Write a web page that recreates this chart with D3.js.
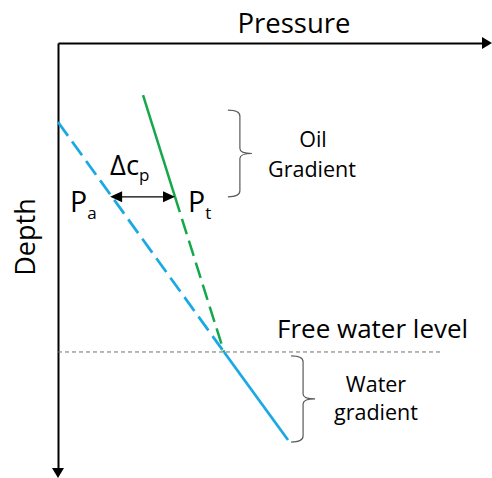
<!DOCTYPE html>
<html>
<head>
<meta charset="utf-8">
<script src="https://cdn.jsdelivr.net/npm/d3@7"></script>
<style>
  body { margin: 0; background: #fff; }
  svg { display: block; font-family: "Open Sans", sans-serif; }
</style>
</head>
<body>
<svg id="chart" width="492" height="478"></svg>
<script>
// pressure / depth in arbitrary units (0..100 on both axes)
const waterDashed = [{p: 0, d: 18.6}, {p: 39.15, d: 72.7}];
const waterSolid = [{p: 39.15, d: 72.7}, {p: 54.25, d: 93.4}];
const oilSolid = [{p: 20.05, d: 12.24}, {p: 27.6, d: 36.2}];
const oilDashed = [{p: 27.6, d: 36.2}, {p: 39.15, d: 72.7}];
const deltaCp = [{p: 12.3, d: 36.2}, {p: 27.6, d: 36.2}];
const freeWater = [{p: 0, d: 72.7}, {p: 90.6, d: 72.7}];
const oilBracket = {p: 42.9, d: [15.8, 36.2]};
const waterBracket = {p: 57.8, d: [73.6, 93.9]};

let svg = d3.select("#chart");

let x = d3.scaleLinear().domain([0, 100]).range([58, 482]);
let y = d3.scaleLinear().domain([0, 100]).range([43, 468]);

let line = d3.line()
    .x(function (d) { return x(d.p); })
    .y(function (d) { return y(d.d); });

// axes: no ticks, just the domain lines with arrow heads
svg.append("g")
    .attr("transform", "translate(0," + y(0) + ")")
    .call(d3.axisTop(x).ticks(0).tickSizeOuter(0))
    .select(".domain")
    .attr("stroke", "#000")
    .attr("stroke-width", 2);

svg.append("g")
    .attr("transform", "translate(" + x(0) + ",0)")
    .call(d3.axisLeft(y).ticks(0).tickSizeOuter(0))
    .select(".domain")
    .attr("stroke", "#000")
    .attr("stroke-width", 2);

let xEnd = x.range()[1], yEnd = y.range()[1];
svg.append("path")
    .attr("d", "M" + xEnd + "," + (y(0) - 6) + " L" + (xEnd + 10) + "," + y(0) + " L" + xEnd + "," + (y(0) + 6) + "Z")
    .attr("fill", "#000");
svg.append("path")
    .attr("d", "M" + (x(0) - 6) + "," + yEnd + " L" + x(0) + "," + (yEnd + 10) + " L" + (x(0) + 6) + "," + yEnd + "Z")
    .attr("fill", "#000");

// free water level
svg.append("path")
    .attr("d", line(freeWater))
    .attr("fill", "none")
    .attr("stroke", "#707070")
    .attr("stroke-width", 1)
    .attr("stroke-dasharray", "4,3");

// gradients
const blue = "#1aa9e2", green = "#14a84a";
svg.append("path").attr("d", line(waterDashed))
    .attr("fill", "none").attr("stroke", blue).attr("stroke-width", 2.75)
    .attr("stroke-dasharray", "17,7");
svg.append("path").attr("d", line(waterSolid))
    .attr("fill", "none").attr("stroke", blue).attr("stroke-width", 2.75);
svg.append("path").attr("d", line(oilSolid))
    .attr("fill", "none").attr("stroke", green).attr("stroke-width", 2.5);
svg.append("path").attr("d", line(oilDashed))
    .attr("fill", "none").attr("stroke", green).attr("stroke-width", 2.5)
    .attr("stroke-dasharray", "16,7");

// delta cp double arrow
let ax1 = x(deltaCp[0].p), ax2 = x(deltaCp[1].p), ay = y(deltaCp[0].d);
svg.append("line")
    .attr("x1", ax1 + 10).attr("x2", ax2 - 10)
    .attr("y1", ay).attr("y2", ay)
    .attr("stroke", "#000").attr("stroke-width", 1.2);
svg.append("path")
    .attr("d", "M" + ax1 + "," + ay + " L" + (ax1 + 12) + "," + (ay - 5.5) + " L" + (ax1 + 12) + "," + (ay + 5.5) + "Z")
    .attr("fill", "#000");
svg.append("path")
    .attr("d", "M" + ax2 + "," + ay + " L" + (ax2 - 12) + "," + (ay - 5.5) + " L" + (ax2 - 12) + "," + (ay + 5.5) + "Z")
    .attr("fill", "#000");

// curly brackets
function bracket(b) {
    let xv = x(b.p), y0 = y(b.d[0]), y1 = y(b.d[1]), ym = (y0 + y1) / 2;
    return "M" + (xv - 12) + "," + y0 +
        " Q" + xv + "," + y0 + " " + xv + "," + (y0 + 6) +
        " L" + xv + "," + (ym - 5) +
        " Q" + xv + "," + ym + " " + (xv + 12) + "," + ym +
        " Q" + xv + "," + ym + " " + xv + "," + (ym + 5) +
        " L" + xv + "," + (y1 - 6) +
        " Q" + xv + "," + y1 + " " + (xv - 12) + "," + y1;
}
svg.append("path").attr("d", bracket(oilBracket))
    .attr("fill", "none").attr("stroke", "#5a5a5a").attr("stroke-width", 1.2);
svg.append("path").attr("d", bracket(waterBracket))
    .attr("fill", "none").attr("stroke", "#5a5a5a").attr("stroke-width", 1.2);

// text
function label(tx, ty, str, size, anchor) {
    return svg.append("text")
        .attr("x", tx).attr("y", ty)
        .attr("font-size", size)
        .attr("text-anchor", anchor || "start")
        .attr("fill", "#000")
        .text(str);
}

label(294, 33, "Pressure", 27.5, "middle");
svg.append("text")
    .attr("transform", "translate(35,237) rotate(-90)")
    .attr("font-size", 27)
    .attr("text-anchor", "middle")
    .text("Depth");

let pa = label(70, 212, "P", 28.5);
pa.append("tspan").attr("dy", 7).attr("font-size", 17).text("a");
let pt = label(188, 212, "P", 28.5);
pt.append("tspan").attr("dy", 7).attr("font-size", 17).text("t");
let dc = label(110, 175, "\u0394c", 27.5);
dc.append("tspan").attr("dy", 6).attr("font-size", 17).text("p");

label(313, 147, "Oil", 21.5, "middle");
label(312, 177, "Gradient", 21.5, "middle");
label(277, 338, "Free water level", 26);
label(376, 392, "Water", 21.5, "middle");
label(376, 420, "gradient", 21.5, "middle");
</script>
</body>
</html>
